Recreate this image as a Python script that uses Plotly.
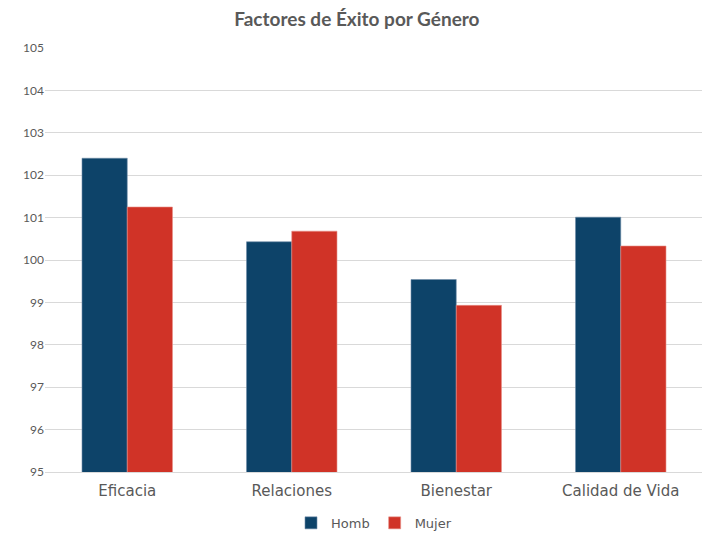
import plotly.graph_objects as go

categorias = ["Eficacia", "Relaciones", "Bienestar", "Calidad de Vida"]
hombres = [102.40, 100.43, 99.54, 101.01]
mujeres = [101.25, 100.68, 98.93, 100.33]
y_ticks = list(range(95, 106))
y_labels = [str(v) for v in y_ticks]

fig = go.Figure()
fig.add_trace(go.Bar(
    x=categorias, y=hombres, name="Homb",
    marker=dict(color="#0D4369", line=dict(color="#6E8CA8", width=0.6)),
))
fig.add_trace(go.Bar(
    x=categorias, y=mujeres, name="Mujer",
    marker=dict(color="#D03327", line=dict(color="#E89088", width=0.6)),
))

# the page body adds an 8px margin, so the figure is sized 8px smaller
fig.update_layout(
    width=702, height=525,
    paper_bgcolor="white", plot_bgcolor="white",
    font=dict(family="Lato, sans-serif", color="#595959"),
    title=dict(text="<b>Factores de Éxito por Género</b>", x=0.497, xanchor="center",
               y=0.979, yanchor="middle",
               font=dict(size=19, color="#595959", family="Lato, sans-serif")),
    margin=dict(l=37, r=7, t=40, b=61, autoexpand=False),
    barmode="group", bargap=0.45, bargroupgap=0,
    showlegend=True,
    legend=dict(orientation="h", x=0.5, xanchor="center", y=-0.12, yanchor="middle",
                font=dict(size=13, color="#595959", family="DejaVu Sans, sans-serif"),
                itemwidth=30),
    xaxis=dict(showgrid=False, showline=True, linecolor="#D9D9D9",
               tickfont=dict(size=15, color="#595959", family="DejaVu Sans, sans-serif"),
               ticks="", ticklabelstandoff=5),
    yaxis=dict(range=[95, 105], tickvals=y_ticks, ticktext=y_labels,
               showgrid=True, gridcolor="#D9D9D9", gridwidth=1,
               zeroline=False, showline=False,
               tickfont=dict(size=12, color="#595959"), ticks=""),
)

fig.write_html("out.html")
